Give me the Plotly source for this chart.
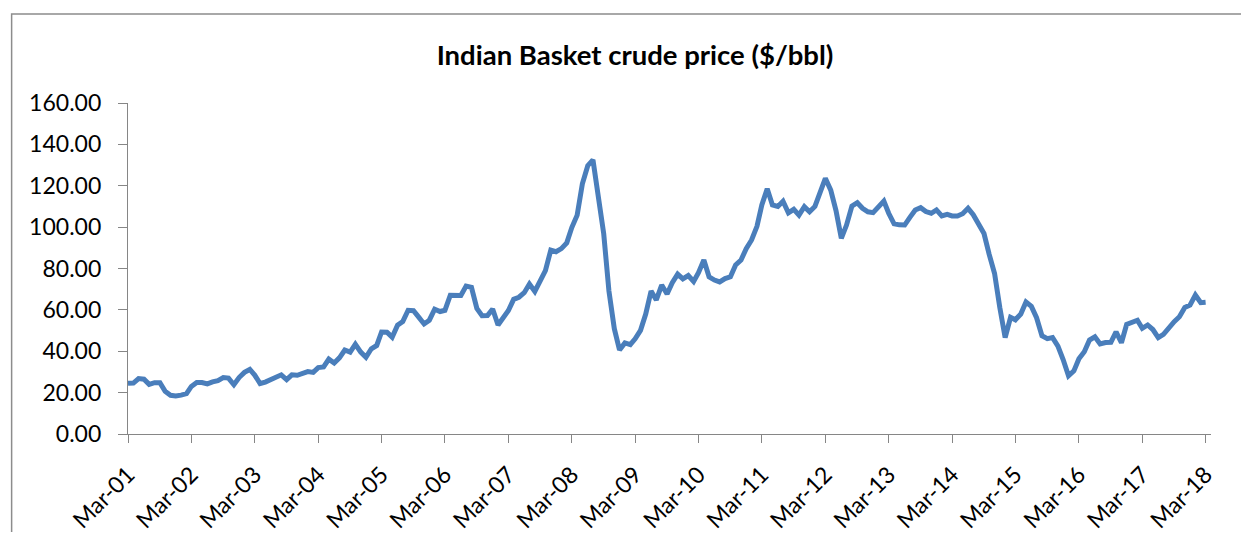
import pandas as pd
import plotly.graph_objects as go

# Monthly Indian Basket crude price ($/bbl), Mar-2001 .. Mar-2018
start_month = "2001-03-01"
p2001 = [24.5, 24.6, 26.8, 26.5, 24.0, 24.8, 24.8, 20.6, 18.7, 18.4]  # Mar-Dec
p2002 = [18.8, 19.5, 23.0, 24.9, 24.9, 24.2, 25.2, 25.8, 27.3, 27.0, 23.8, 27.3]
p2003 = [29.8, 31.2, 28.5, 24.4, 25.1, 26.3, 27.4, 28.6, 26.3, 28.6, 28.4, 29.1]
p2004 = [30.2, 29.8, 32.1, 32.4, 36.2, 34.3, 36.8, 40.6, 39.6, 43.4, 39.6, 37.1]
p2005 = [41.2, 42.8, 49.3, 49.2, 46.8, 52.6, 54.3, 59.8, 59.6, 56.5, 53.2, 55.0]
p2006 = [60.3, 59.2, 59.8, 67.1, 67.3, 67.0, 71.5, 70.9, 60.7, 57.2, 57.3, 60.4]
p2007 = [52.7, 55.9, 59.6, 65.1, 66.1, 68.3, 72.5, 68.9, 74.4, 79.0, 88.9, 88.1]
p2008 = [89.6, 92.4, 99.8, 105.8, 120.9, 129.7, 132.5, 113.0, 96.8, 69.1, 50.9, 40.6]
p2009 = [44.0, 43.2, 46.0, 50.1, 58.0, 69.1, 64.8, 72.0, 67.7, 73.1, 77.3, 75.0]
p2010 = [76.6, 73.7, 78.0, 84.1, 76.0, 74.4, 73.5, 75.1, 76.0, 81.7, 84.1, 89.6]
p2011 = [93.8, 100.4, 110.7, 118.5, 110.7, 110.0, 112.5, 106.9, 108.6, 105.8, 109.9, 107.4]
p2012 = [110.0, 117.0, 123.6, 117.9, 108.1, 94.6, 101.0, 110.2, 111.8, 109.1, 107.4, 107.0]
p2013 = [110.0, 112.6, 106.7, 101.6, 101.1, 101.0, 104.7, 108.3, 109.4, 107.5, 106.7, 108.3]
p2014 = [105.4, 106.2, 105.4, 105.4, 106.5, 109.1, 106.0, 101.9, 96.9, 86.8, 77.6, 61.2]
p2015 = [46.6, 56.4, 55.2, 58.0, 63.8, 61.7, 56.2, 47.5, 46.1, 46.6, 42.5, 36.0]
p2016 = [28.1, 30.5, 36.4, 39.8, 45.4, 47.0, 43.5, 44.2, 44.3, 49.4, 44.1, 53.0]
p2017 = [54.0, 55.0, 51.1, 52.7, 50.5, 46.6, 48.2, 51.4, 54.3, 56.7, 61.2, 62.3]
p2018 = [67.2, 63.5, 63.7]  # Jan-Mar

prices = (p2001 + p2002 + p2003 + p2004 + p2005 + p2006 + p2007 + p2008 + p2009
          + p2010 + p2011 + p2012 + p2013 + p2014 + p2015 + p2016 + p2017 + p2018)
months = pd.date_range(start_month, periods=len(prices), freq="MS")

tick_years = list(range(2001, 2019))
tick_vals = [f"{y}-03-01" for y in tick_years]
tick_text = [f"Mar-{y % 100:02d}" for y in tick_years]
y_ticks = [0, 20, 40, 60, 80, 100, 120, 140, 160]

FONT = "Lato"
AXIS_COLOR = "#868686"

fig = go.Figure()
fig.add_trace(go.Scatter(
    x=months, y=prices, mode="lines",
    line=dict(color="#4A7EBB", width=5),
    hoverinfo="x+y", showlegend=False,
))

# page body has an 8px margin; positions below are in figure pixels
OFF = 8
W, H = 1249 - 2 * OFF, 540 - 2 * OFF
L, R, T, B = 128.3 - OFF, 1210.6 - OFF, 103 - OFF, 434 - OFF
pw, ph = R - L, B - T

def px(x):
    return (x - OFF - L) / pw

def py(y):
    return (B - (y - OFF)) / ph

fig.update_layout(
    width=W, height=H,
    margin=dict(l=L, r=W - R, t=T, b=H - B, pad=0, autoexpand=False),
    paper_bgcolor="white", plot_bgcolor="white",
    font=dict(family=FONT, color="black", size=23),
    title=dict(text="<b>Indian Basket crude price ($/bbl)</b>",
               xref="container", x=(635 - OFF) / W, xanchor="center",
               yref="container", y=1 - (55 - OFF) / H, yanchor="middle",
               font=dict(family=FONT, size=27.5, color="black")),
    xaxis=dict(
        type="date", range=["2001-03-01", "2018-04-01"], automargin=False,
        tickmode="array", tickvals=tick_vals, ticktext=tick_text,
        tickangle=-45, ticks="outside", ticklen=8, tickwidth=1.3,
        tickcolor=AXIS_COLOR, showline=True, linecolor=AXIS_COLOR, linewidth=1.3,
        showgrid=False, zeroline=False, tickfont=dict(size=23),
        ticklabelstandoff=9,
    ),
    yaxis=dict(
        range=[0, 160], tickmode="array", tickvals=y_ticks, automargin=False,
        tickformat=".2f", ticks="outside", ticklen=9, tickwidth=1.3,
        tickcolor=AXIS_COLOR, showline=True, linecolor=AXIS_COLOR, linewidth=1.3,
        showgrid=False, zeroline=False, tickfont=dict(size=23),
        ticklabelstandoff=12,
    ),
    shapes=[dict(type="rect", xref="paper", yref="paper",
                 x0=px(12), x1=px(1270), y0=py(580), y1=py(14),
                 line=dict(color="#8C8C8C", width=1.5), layer="below")],
)

fig.write_html("out.html")
